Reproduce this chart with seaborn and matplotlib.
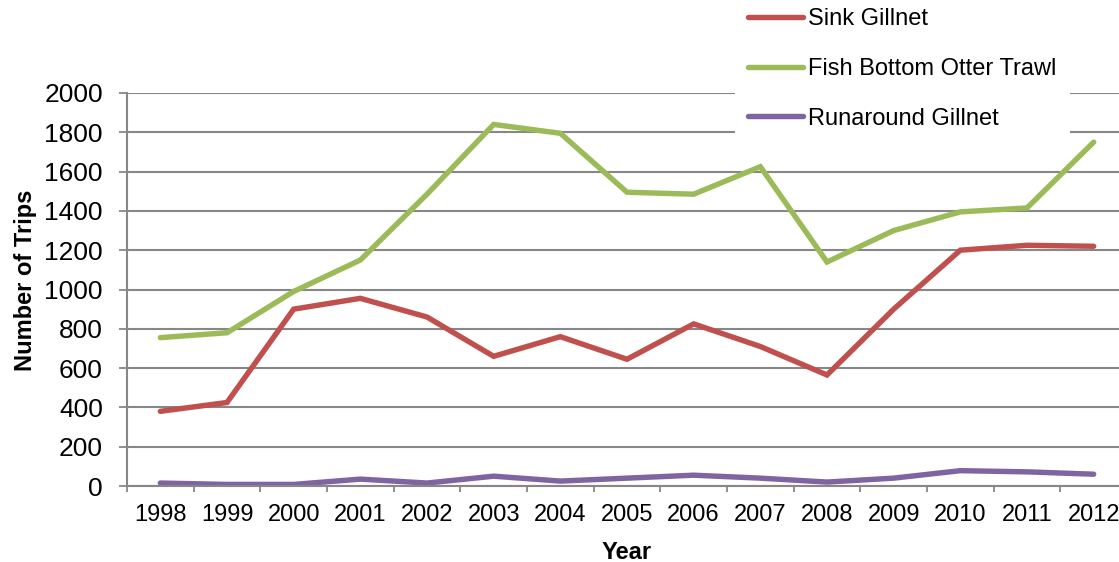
import matplotlib
matplotlib.use("Agg")
import matplotlib.pyplot as plt
from matplotlib.lines import Line2D
import seaborn as sns
import pandas as pd

years = [1998, 1999, 2000, 2001, 2002, 2003, 2004, 2005, 2006, 2007, 2008, 2009, 2010, 2011, 2012]
sink_gillnet = [380, 425, 900, 955, 860, 660, 760, 645, 825, 710, 565, 900, 1200, 1225, 1220]
fish_bottom_otter_trawl = [755, 780, 990, 1150, 1485, 1840, 1795, 1495, 1485, 1625, 1140, 1300, 1395, 1415, 1750]
runaround_gillnet = [15, 8, 8, 35, 15, 50, 25, 40, 55, 40, 20, 40, 78, 72, 60]

series_names = ["Sink Gillnet", "Fish Bottom Otter Trawl", "Runaround Gillnet"]
series_colors = ["#C0504D", "#9BBB59", "#8064A2"]
y_ticks = list(range(0, 2001, 200))

df = pd.concat([
    pd.DataFrame({"Year": years, "Trips": vals, "Gear": name})
    for name, vals in zip(series_names, [sink_gillnet, fish_bottom_otter_trawl, runaround_gillnet])
], ignore_index=True)

sns.set_theme(style="white")
plt.rcParams["font.family"] = ["Liberation Sans", "DejaVu Sans"]
plt.rcParams["text.color"] = "black"
plt.rcParams["axes.labelcolor"] = "black"
plt.rcParams["xtick.color"] = "black"
plt.rcParams["ytick.color"] = "black"

fig = plt.figure(figsize=(11.19, 5.62), dpi=100)
# plot area runs slightly past the right edge of the figure
ax = fig.add_axes([127 / 1119, 1 - 486 / 562, 1000 / 1119, 393 / 562])

sns.lineplot(data=df, x="Year", y="Trips", hue="Gear", hue_order=series_names,
             palette=series_colors, linewidth=3.9, ax=ax, legend=False,
             solid_capstyle="round", solid_joinstyle="miter")

grid_color = "#878787"
ax.set_ylim(0, 2000)
ax.set_yticks(y_ticks)
ax.set_yticklabels([str(v) for v in y_ticks], fontsize=19)
ax.yaxis.grid(True, color=grid_color, linewidth=1.5)
ax.set_axisbelow(True)

# category axis: ticks between years, labels centred on each year
ax.set_xlim(years[0] - 0.5, years[-1] + 0.5)
ax.set_xticks([y - 0.5 for y in years] + [years[-1] + 0.5])
ax.set_xticklabels([])
ax.set_xticks(years, minor=True)
ax.set_xticklabels([str(y) for y in years], minor=True, fontsize=17)
ax.tick_params(axis="x", which="major", direction="out", length=4.5, width=1.3,
               color=grid_color, bottom=True)
ax.tick_params(axis="x", which="minor", length=0, pad=13)
ax.tick_params(axis="y", direction="out", length=5.8, width=1.3, color=grid_color,
               left=True, pad=11.5)

for side in ["top", "right"]:
    ax.spines[side].set_visible(False)
for side in ["left", "bottom"]:
    ax.spines[side].set_color(grid_color)
    ax.spines[side].set_linewidth(1.5)

ax.set_xlabel("Year", fontsize=17, fontweight="bold", labelpad=10.5)
ax.set_ylabel("Number of Trips", fontsize=17, fontweight="bold")
ax.yaxis.set_label_coords(-0.0905, 0.523)

handles = [Line2D([], [], color=c, linewidth=3.9, solid_capstyle="round") for c in series_colors]
leg = fig.legend(handles, series_names, loc="upper left",
                 bbox_to_anchor=(735 / 1119, 1.009), bbox_transform=fig.transFigure,
                 fontsize=17, frameon=True, fancybox=False, framealpha=1,
                 handlelength=2.35, handletextpad=0.2, labelspacing=1.18,
                 borderpad=0.55, borderaxespad=0)
leg.get_frame().set_facecolor("white")
leg.get_frame().set_edgecolor("white")
leg.get_frame().set_linewidth(0)

fig.savefig("out.png", dpi=100)
